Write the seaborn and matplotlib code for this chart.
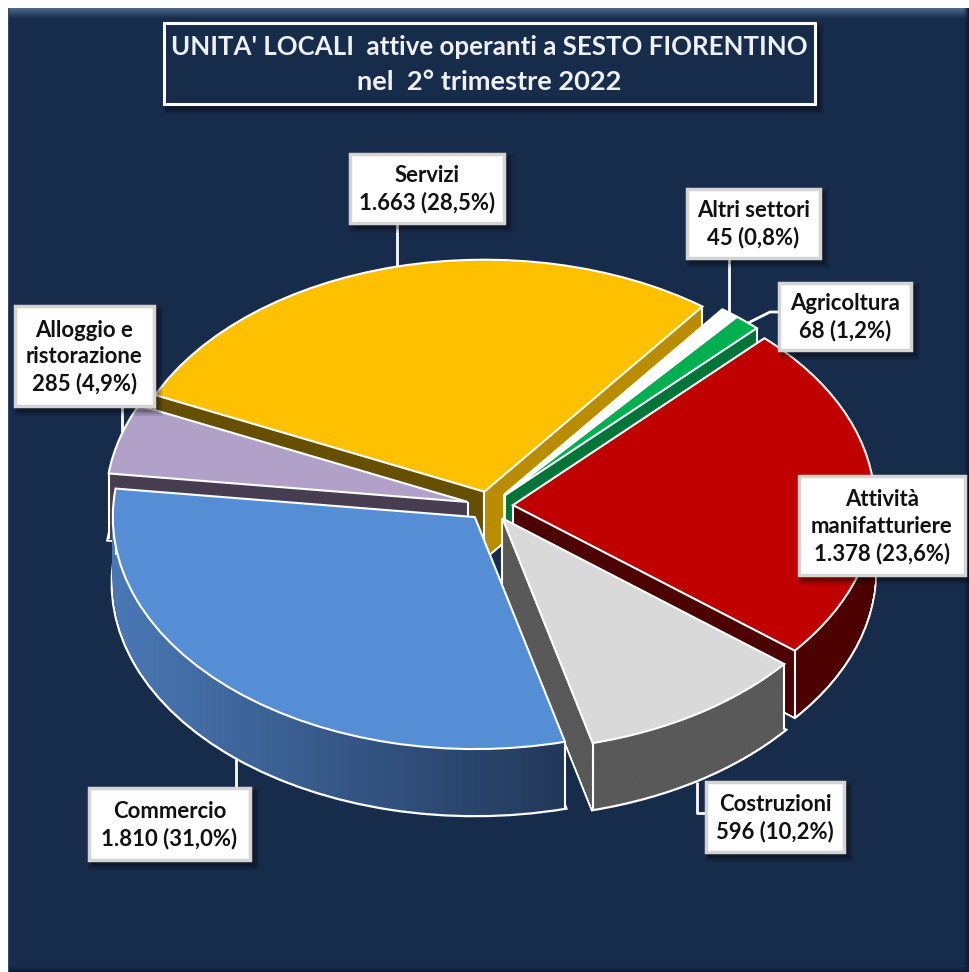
import numpy as np
import matplotlib
matplotlib.use("Agg")
import matplotlib.pyplot as plt
from matplotlib.colors import to_rgb
from matplotlib.patches import Rectangle
from matplotlib.path import Path
import seaborn as sns

sns.set_theme(style="white")
plt.rcParams['font.family'] = ['Lato', 'DejaVu Sans']

# ---------------------- DATA ----------------------
settori = ["Attività\nmanifatturiere", "Costruzioni", "Commercio", "Alloggio e\nristorazione",
           "Servizi", "Altri settori", "Agricoltura"]
valori = [1378, 596, 1810, 285, 1663, 45, 68]
title_lines = ["UNITA' LOCALI  attive operanti a SESTO FIORENTINO", "nel  2° trimestre 2022"]

# ---------------------- STYLE ----------------------
W, H = 969, 972
navy = "#172b4a"
top_cols = sns.color_palette(["#c00000", "#d9d9d9", "#558ed5", "#b1a0c7", "#ffc000", "#ffffff", "#00b050"])
wall_cols = ["#4d0000", "#595959", "#4a78b5", "#473d50", "#ba8c00", "#ffffff", "#00753a"]
# back to front, slice index -> layer
draw_order = {4: 0, 5: 1, 6: 2, 0: 3, 3: 4, 1: 5, 2: 6}

# pie geometry in pixels
cx, cy = 490, 506
rx, ry = 362, 232
depth = 66
explode = 23 / rx

# label boxes left, top, right, bottom in pixels
boxes = [(799, 476, 965, 575), (706, 782, 844, 852), (89, 788, 250, 860), (15, 306, 154, 406),
         (350, 154, 504, 223), (687, 189, 820, 258), (779, 283, 911, 350)]
leaders = [None,
           [(697, 782), (697, 813), (706, 813)],
           [(236, 758), (236, 788)],
           [(122, 406), (122, 432)],
           [(397, 223), (397, 266)],
           [(729, 258), (729, 312)],
           [(779, 312), (770, 312), (748, 323)]]


def label_text(name, val):
    pct = f"{100 * val / sum(valori):.1f}".replace(".", ",")
    num = f"{val:,}".replace(",", ".")
    return f"{name}\n{num} ({pct}%)"


def sweep_quad(p, q, drop):
    # side face between two points of a slice, wound the same way as the wedges
    verts = np.array([p, (p[0], p[1] - drop), (q[0], q[1] - drop), q, p])
    x, y = verts[:, 0], verts[:, 1]
    if np.sum(x[:-1] * y[1:] - x[1:] * y[:-1]) < 0:
        verts = verts[::-1]
    return Path(verts, closed=True)


fig = plt.figure(figsize=(W / 100, H / 100), dpi=100, facecolor="white")

# ---------------------- BACKGROUND ----------------------
ax_bg = fig.add_axes([0, 0, 1, 1], zorder=0)
bg = np.ones((H, W, 3)) * np.array(to_rgb(navy))
light = np.array(to_rgb("#4d6789"))
for i in range(11):
    bg[9 + i, :] = light + (np.array(to_rgb(navy)) - light) * i / 10
dark = np.array(to_rgb("#0f1d33"))
for i in range(6):
    bg[H - 6 + i, :] = bg[H - 6 + i, :] * (1 - i / 5) + dark * (i / 5)
    bg[:, W - 6 + i] = bg[:, W - 6 + i] * (1 - i / 5) + dark * (i / 5)
bg[:, 8] = to_rgb("#33496a")
bg[:9, :] = 1
bg[:, :8] = 1
ax_bg.imshow(bg, extent=(0, W, H, 0), aspect="auto", interpolation="nearest")
ax_bg.axis("off")

# ---------------------- PIE ----------------------
ax = fig.add_axes([0, 0, 1, 1], zorder=1)
ax.patch.set_visible(False)
dz = 1 / ry
START = 46

layers = []
for k in range(depth + 1):
    wedges, _ = ax.pie(valori, radius=1, center=(0, -k * dz), explode=[explode] * len(valori),
                       startangle=START, counterclock=False, colors=top_cols,
                       wedgeprops=dict(edgecolor="white", linewidth=1.5))
    layers.append(wedges)

xlim = (-cx / rx, (W - cx) / rx)
ylim = (-(H - cy) / ry, cy / ry)
xs = np.linspace(xlim[0], xlim[1], 480)

for i, name in enumerate(settori):
    z = draw_order[i]
    top = layers[0][i]
    top.set_zorder(z + 0.9)
    bottom = layers[depth][i]
    bottom.set_zorder(z + 0.1)
    bottom.set_facecolor("none")
    bottom.set_linewidth(3.2)

    t1, t2 = np.deg2rad(top.theta1), np.deg2rad(top.theta2)
    tip = top.center
    corner1 = (tip[0] + np.cos(t1), tip[1] + np.sin(t1))
    corner2 = (tip[0] + np.cos(t2), tip[1] + np.sin(t2))

    # wall colours change along x
    strip = np.tile(np.array(to_rgb(wall_cols[i])), (len(xs), 1))
    if name == "Servizi":
        strip[xs < tip[0]] = to_rgb("#665000")
    if name == "Commercio":
        c0, c1 = np.array(to_rgb("#4a78b5")), np.array(to_rgb("#22385a"))
        t = np.clip((xs + (cx - 113) / rx) / ((565 - 113) / rx), 0, 1)
        strip = c0 + (c1 - c0) * t[:, None]

    paths = [layers[k][i].get_path() for k in range(depth + 1)]
    paths += [sweep_quad(tip, corner1, depth * dz), sweep_quad(tip, corner2, depth * dz)]
    im = ax.imshow(strip[None, :, :], extent=(xlim[0], xlim[1], ylim[0], ylim[1]), aspect="auto",
                   zorder=z + 0.3, interpolation="bilinear")
    im.set_clip_path(Path.make_compound_path(*paths), ax.transData)

    # vertical edges at the corners of the slice
    corners = [tip, corner1]
    if not 0 < top.theta2 % 360 < 90:  # that corner sits behind the slice's own wall
        corners.append(corner2)
    for px, py in corners:
        ax.plot([px, px], [py, py - depth * dz], color="white", lw=1.5, zorder=z + 0.5,
                solid_capstyle="butt")

    for k in range(1, depth):
        layers[k][i].remove()

ax.set_aspect("auto")
ax.set_xlim(xlim)
ax.set_ylim(ylim)
ax.set_frame_on(False)
ax.set_xticks([])
ax.set_yticks([])

# ---------------------- LABELS AND TITLE ----------------------
ov = fig.add_axes([0, 0, 1, 1], zorder=2)
ov.patch.set_visible(False)
ov.set_xlim(0, W)
ov.set_ylim(H, 0)
ov.axis("off")


def shadow(l, t, r, b):
    for grow, a in [(5, 0.10), (3, 0.14), (1, 0.2)]:
        ov.add_patch(Rectangle((l + 4 - grow, t + 5 - grow), r - l + 2 * grow, b - t + 2 * grow,
                               facecolor="black", edgecolor="none", alpha=a, zorder=2))


for i, name in enumerate(settori):
    if leaders[i] is not None:
        lx, ly = zip(*leaders[i])
        ov.plot(lx, ly, color="white", lw=2, zorder=1, solid_capstyle="butt")
    l, t, r, b = boxes[i]
    shadow(l, t, r, b)
    ov.add_patch(Rectangle((l, t), r - l, b - t, facecolor="white", edgecolor="#d4d4d4", lw=2.5, zorder=3))
    ov.text((l + r) / 2, (t + b) / 2 + 1, label_text(name, valori[i]), ha="center", va="center",
            fontsize=15.9, fontweight="bold", color="#111111", linespacing=1.32, zorder=4)

shadow(164, 23, 815, 104)
ov.add_patch(Rectangle((164, 23), 651, 81, facecolor=navy, edgecolor="white", lw=2.2, zorder=3))
ov.text(489, 47, title_lines[0], ha="center", va="center", fontsize=18.6, fontweight="bold",
        color="#eef1f5", zorder=4)
ov.text(489, 82, title_lines[1], ha="center", va="center", fontsize=19.6, fontweight="bold",
        color="#eef1f5", zorder=4)

plt.savefig("out.png", dpi=100, facecolor="white")
